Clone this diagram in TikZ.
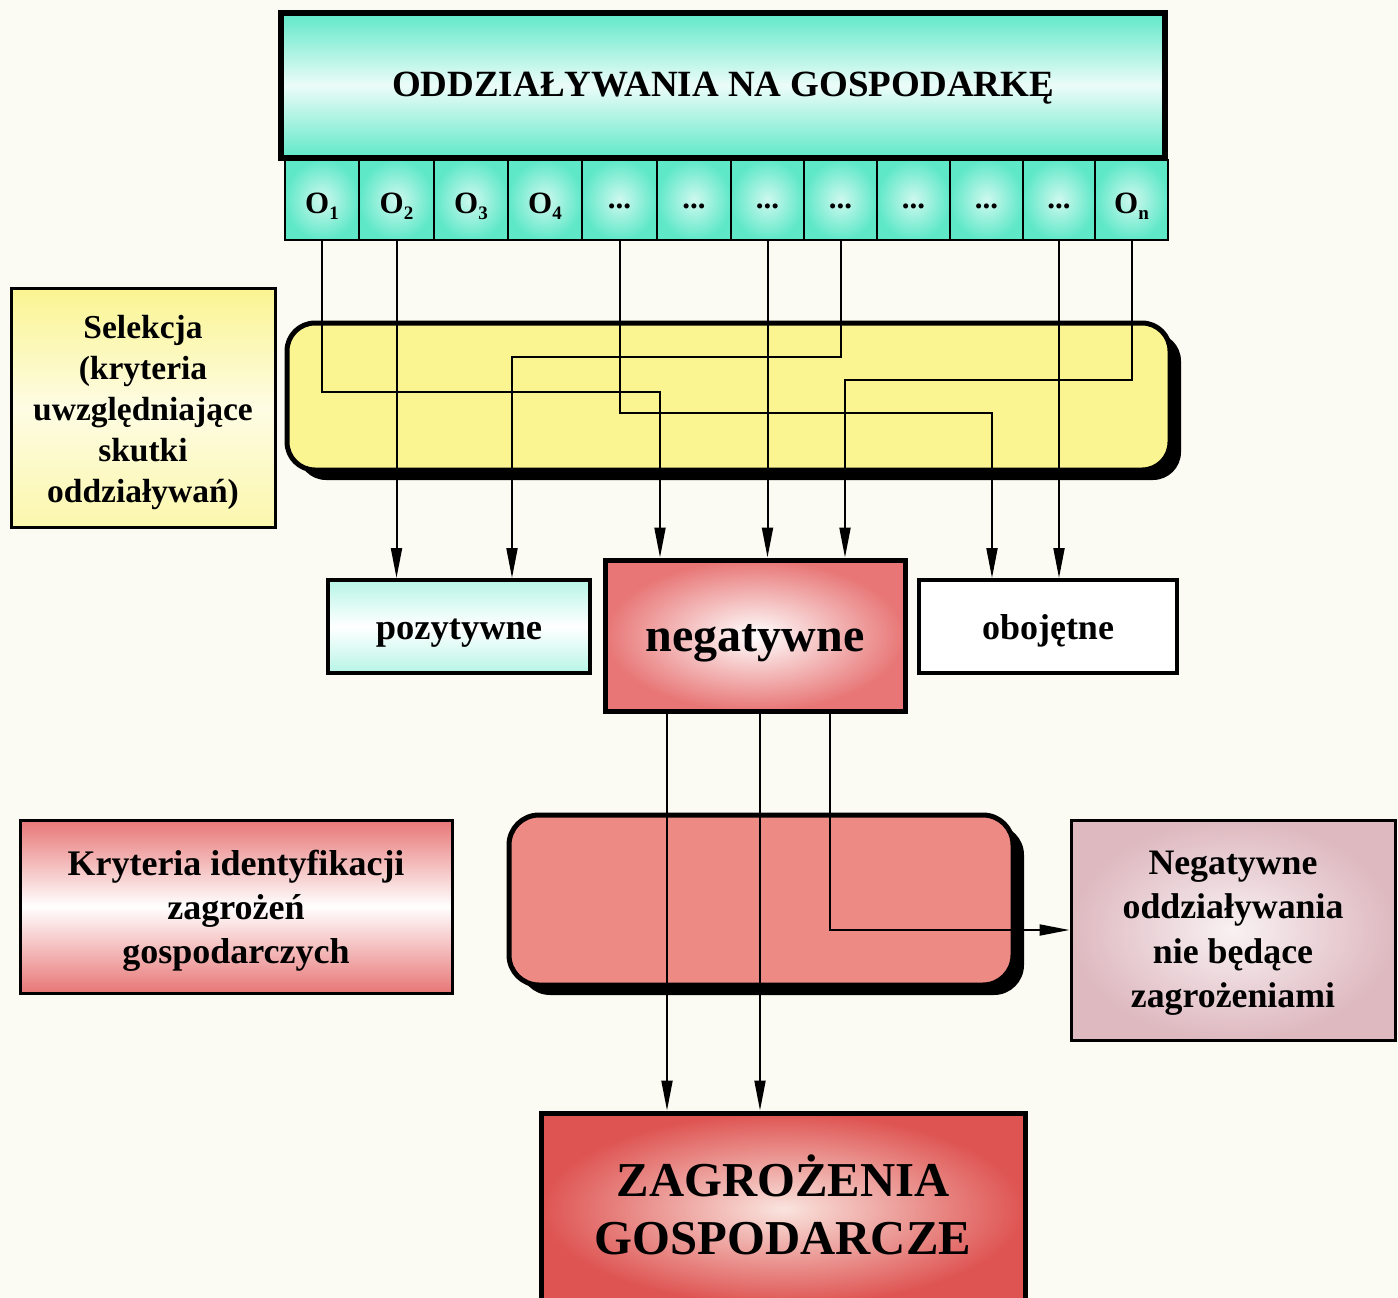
\documentclass[tikz,border=0pt]{standalone}
\usepackage{fontspec}
\setmainfont{Liberation Serif}
\usetikzlibrary{arrows.meta,shadows}
\definecolor{bgc}{RGB}{252,251,243}
\definecolor{tealc}{RGB}{95,232,200}
\definecolor{yelc}{RGB}{250,244,145}
\definecolor{pinkc}{RGB}{232,118,118}
\definecolor{salmonc}{RGB}{238,138,132}
\definecolor{mauvec}{RGB}{222,185,192}
\definecolor{redc}{RGB}{222,84,82}
\newcommand\Osub[1]{O\raisebox{-6pt}{\fontsize{19}{19}\selectfont #1}}
\newcommand\fs[2]{\fontsize{#1}{#2}\selectfont}
\begin{document}
\begin{tikzpicture}[x=1pt,y=-1pt,
  box/.style={draw=black, line width=4pt, rectangle, inner sep=0pt},
  txt/.style={inner sep=0pt, align=center, font=\bfseries},
  cell/.style={draw=black, line width=2.5pt, rectangle, inner sep=0pt, shading=radial, inner color=tealc!30, outer color=tealc},
  conn/.style={line width=2pt},
  arr/.style={conn, -{Triangle[length=30pt,width=11pt]}},
  shadowed/.style={drop shadow={shadow xshift=11pt, shadow yshift=-10pt, fill=black, opacity=1}}
]
\fill[bgc] (0,0) rectangle (1398,1298);
\useasboundingbox (0,0) rectangle (1398,1298);

% header
\node[box, line width=6pt, minimum width=884pt, minimum height=145pt,
  top color=tealc, bottom color=tealc, middle color=tealc!12] (head) at (723,85.5) {};
\node[txt, font=\bfseries\fs{37}{40}] (headT) at ([yshift=-3pt]head.center) {ODDZIAŁYWANIA NA GOSPODARKĘ};

% cells
\foreach \n/\l/\r/\t in {1/285/359/{\Osub{1}}, 2/359/434/{\Osub{2}}, 3/434/508/{\Osub{3}}, 4/508/582/{\Osub{4}},
   5/582/657/{...}, 6/657/731/{...}, 7/731/804/{...}, 8/804/877/{...}, 9/877/950/{...}, 10/950/1023/{...},
   11/1023/1095/{...}, 12/1095/1168/{O\raisebox{-6pt}{\fs{19}{19}n}}}
  {
  \node[cell, minimum width={(\r-\l)*1pt}, minimum height=80pt] (o\n) at ({(\l+\r)/2},200) {};
  \node[txt, font=\bfseries\fs{31}{31}] (ot\n) at ([yshift=-6pt]o\n.center) {\t};
  }

% selection
\node[draw=black, line width=5pt, rounded corners=28pt, minimum width=883pt, minimum height=147pt,
  fill=yelc, shadowed] (sel) at (728.5,396.5) {};
\node[box, line width=3pt, minimum width=264pt, minimum height=239pt,
  top color=yelc, bottom color=yelc!75, middle color=yelc!25] (selek) at (143,407.5) {};
\node[txt, font=\bfseries\fs{33.5}{41}] (selekT) at ([yshift=-5pt]selek.center) {Selekcja\\(kryteria\\uwzględniające\\skutki\\oddziaływań)};

% results
\node[box, minimum width=262pt, minimum height=93pt,
  top color=tealc!45, bottom color=tealc!45, middle color=white] (poz) at (459,626.5) {};
\node[txt, font=\bfseries\fs{36.5}{40}] (pozT) at ([yshift=-7pt]poz.center) {pozytywne};
\node[box, line width=5pt, minimum width=300pt, minimum height=151pt,
  shading=radial, inner color=white, outer color=pinkc] (neg) at (755,635.5) {};
\node[txt, font=\bfseries\fs{48}{52}] (negT) at ([yshift=-8pt]neg.center) {negatywne};
\node[box, minimum width=258pt, minimum height=93pt, fill=white] (obo) at (1048,626.5) {};
\node[txt, font=\bfseries\fs{36}{40}] (oboT) at ([yshift=-4pt]obo.center) {obojętne};

% criteria
\node[box, line width=3pt, minimum width=432pt, minimum height=173pt,
  top color=pinkc, bottom color=pinkc, middle color=white] (kryt) at (236,906.5) {};
\node[txt, font=\bfseries\fs{36}{44}] (krytT) at ([yshift=-4pt]kryt.center) {Kryteria identyfikacji\\zagrożeń\\gospodarczych};
\node[draw=black, line width=5pt, rounded corners=30pt, minimum width=504pt, minimum height=170pt,
  fill=salmonc, shadowed] (filt) at (761,900) {};
\node[box, line width=3pt, minimum width=324pt, minimum height=220pt,
  shading=radial, inner color=mauvec!20, outer color=mauvec] (noz) at (1233,930) {};
\node[txt, font=\bfseries\fs{35.8}{44.5}] (nozT) at ([yshift=-3pt]noz.center) {Negatywne\\oddziaływania\\nie będące\\zagrożeniami};
\node[box, line width=5pt, minimum width=484pt, minimum height=192pt,
  shading=radial, inner color={rgb,255:red,250;green,228;blue,222}, outer color=redc] (zag) at (783,1209) {};
\node[txt, font=\bfseries\fs{48.7}{58}] (zagT) at ([yshift=4pt]zag.center) {ZAGROŻENIA\\GOSPODARCZE};

% connectors through selection
\coordinate (c1) at (660,392);
\coordinate (c3) at (992,413);
\coordinate (c5) at (512,357);
\coordinate (c7) at (845,380);
\draw[arr] (o1.south) |- (c1) -- (c1 |- neg.north);
\draw[arr] (o2.south) -- (o2.south |- poz.north);
\draw[arr] (o5.south) |- (c3) -- (c3 |- obo.north);
\draw[arr] (o7.south) -- (o7.south |- neg.north);
\draw[arr] (o8.south) |- (c5) -- (c5 |- poz.north);
\draw[arr] (o11.south) -- (o11.south |- obo.north);
\draw[arr] (o12.south) |- (c7) -- (c7 |- neg.north);

% connectors through filter
\draw[arr] ([xshift=-88pt]neg.south) -- ([xshift=-88pt]neg.south |- zag.north);
\draw[arr] ([xshift=5pt]neg.south) -- ([xshift=5pt]neg.south |- zag.north);
\draw[arr] ([xshift=75pt]neg.south) |- (noz.west);
\end{tikzpicture}
\end{document}
